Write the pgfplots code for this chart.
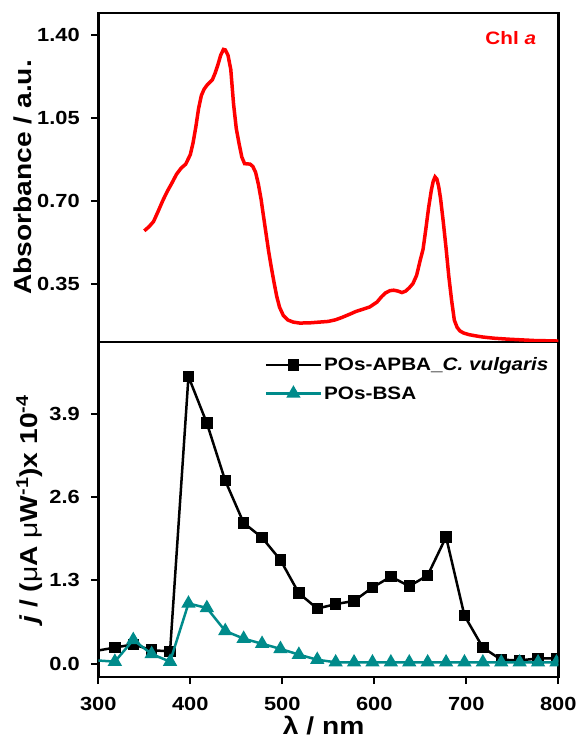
\documentclass[border=0pt]{standalone}
\usepackage{fontspec}
\setmainfont{Liberation Sans}[FakeStretch=1.15]
\usepackage{pgfplots}
\pgfplotsset{compat=1.18}
\definecolor{tealc}{RGB}{0,139,139}
\definecolor{chlred}{RGB}{255,0,0}

\pgfplotstableread{
x y
350 0.573
355 0.590
360 0.612
365 0.655
370 0.700
375 0.740
380 0.775
385 0.812
390 0.838
395 0.855
400 0.895
403 0.945
406 1.012
409 1.090
412 1.145
415 1.172
418 1.188
421 1.200
424 1.212
427 1.240
430 1.275
433 1.315
436 1.340
438 1.338
441 1.315
444 1.255
447 1.110
450 1.005
453 0.942
456 0.885
459 0.857
462 0.856
465 0.855
468 0.845
471 0.820
474 0.770
477 0.705
479 0.650
482 0.570
485 0.490
488 0.420
491 0.355
494 0.295
497 0.250
501 0.216
506 0.196
512 0.187
519 0.183
530 0.184
540 0.187
550 0.190
558 0.197
565 0.207
573 0.220
580 0.232
588 0.242
595 0.251
603 0.272
608 0.295
612 0.310
617 0.320
621 0.322
626 0.318
630 0.312
634 0.318
638 0.332
642 0.350
646 0.385
650 0.450
653 0.495
656 0.580
659 0.670
662 0.745
664 0.782
666 0.801
668 0.792
670 0.760
672 0.710
675 0.610
678 0.500
681 0.380
684 0.280
687 0.195
690 0.165
693 0.150
697 0.141
703 0.134
710 0.129
718 0.124
730 0.119
745 0.115
760 0.112
775 0.109
790 0.108
800 0.107
}\chltable

\pgfplotstableread{
x y
298 0.20
318 0.25
338 0.30
358 0.21
378 0.19
398 4.49
418 3.76
438 2.86
458 2.20
478 1.97
498 1.62
518 1.10
538 0.86
558 0.93
578 0.98
598 1.19
618 1.36
638 1.21
658 1.38
678 1.98
698 0.75
718 0.25
738 0.06
758 0.05
778 0.08
798 0.08
}\apbatable

\pgfplotstableread{
x y
298 0.05
318 0.03
338 0.37
358 0.15
378 0.03
398 0.94
418 0.87
438 0.51
458 0.39
478 0.31
498 0.23
518 0.14
538 0.06
558 0.02
578 0.02
598 0.02
618 0.02
638 0.02
658 0.02
678 0.02
698 0.02
718 0.02
738 0.02
758 0.02
778 0.02
798 0.02
}\bsatable

\begin{document}
\begin{tikzpicture}
\pgfplotsset{
  myaxis/.style={
    scale only axis,
    width=460pt,
    xmin=300, xmax=800,
    axis line style={line width=2.5pt},
    tick align=outside,
    major tick length=7pt,
    tick style={line width=2pt, black},
    xtick pos=bottom, ytick pos=left,
    minor tick num=0,
    tick label style={font=\fontsize{19}{21}\selectfont\bfseries},
    yticklabel style={xshift=-8pt},
    xticklabel style={yshift=-10pt},
    /pgf/number format/assume math mode=true,
    label style={font=\fontsize{24.5}{28}\selectfont\bfseries},
    clip marker paths=true,
  },
}
\begin{axis}[myaxis,
  name=bot,
  at={(98.3pt,64pt)}, anchor=south west,
  height=335pt,
  ymin=-0.21, ymax=5.03,
  xtick={300,400,...,800},
  ytick={0,1.3,2.6,3.9},
  yticklabel style={/pgf/number format/fixed, /pgf/number format/precision=1, /pgf/number format/fixed zerofill},
  xticklabel style={/pgf/number format/1000 sep={}},
  xlabel={λ / nm},
  ylabel={\textit{j} / (\textmd{μ}A \textmd{μ}W\textsuperscript{-1})x 10\textsuperscript{-4}},
  ylabel style={at={(axis description cs:-0.150,0.5)}, anchor=center},
  xlabel style={at={(axis description cs:0.49,-0.145)}, anchor=center},
  legend style={at={(rel axis cs:0.99,0.965)}, anchor=north east, draw=none, fill=none,
    font=\fontsize{18}{20}\selectfont\bfseries, row sep=10pt},
  legend cell align=left,
  legend image code/.code={\draw[mark repeat=2,mark phase=2,#1] plot coordinates {(0pt,0pt) (27.5pt,0pt) (55pt,0pt)};},
]
\addplot[black, line width=2.5pt, mark=square*, mark size=4.5pt, mark options={solid}] table[x=x,y=y]{\apbatable};
\addlegendentry{POs-APBA\_\textit{C. vulgaris}}
\addplot[tealc, line width=2.5pt, mark=triangle*, mark size=5.8pt, mark options={solid}] table[x=x,y=y]{\bsatable};
\addlegendentry{POs-BSA}
\end{axis}

\begin{axis}[myaxis,
  name=top,
  at={(98.3pt,399pt)}, anchor=south west,
  height=329pt,
  ymin=0.103, ymax=1.494,
  xtick=\empty,
  ytick={0.35,0.70,1.05,1.40},
  yticklabel style={/pgf/number format/fixed, /pgf/number format/precision=2, /pgf/number format/fixed zerofill},
  ylabel={Absorbance / a.u.},
  ylabel style={at={(axis description cs:-0.163,0.5)}, anchor=center},
]
\addplot[chlred, line width=3.5pt, no marks] table[x=x,y=y]{\chltable};
\node[anchor=east, inner sep=0pt, text=chlred, font=\fontsize{18}{20}\selectfont\bfseries] at (axis cs:776,1.39) {Chl \textit{a}};
\end{axis}
\pgfresetboundingbox
\path[use as bounding box] (0,0) rectangle (578pt,741pt);
\end{tikzpicture}
\end{document}
